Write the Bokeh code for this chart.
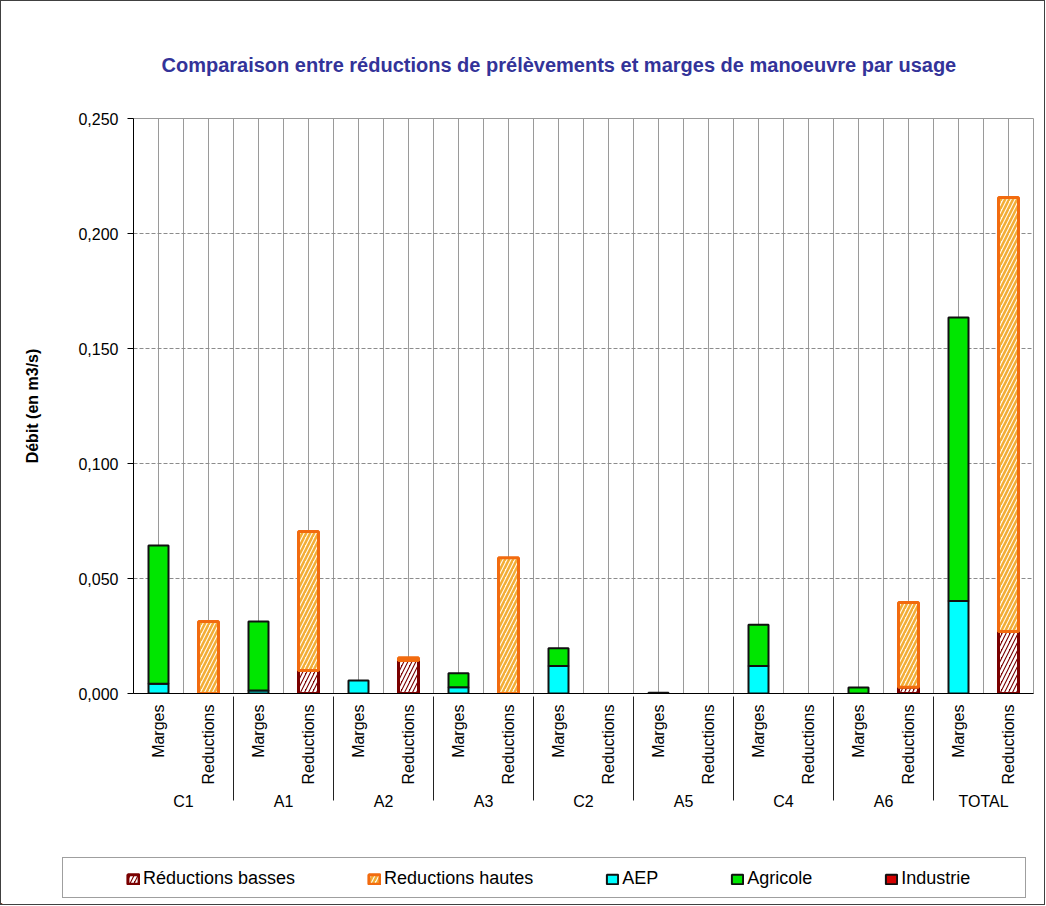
import math
import numpy as np
from bokeh.plotting import figure
from bokeh.layouts import column
from bokeh.models import (ColumnDataSource, FactorRange, Range1d, FixedTicker,
                          CustomJSTickFormatter, Legend, LegendItem)
from bokeh.embed import file_html
from bokeh.resources import INLINE

# ---------------- data ----------------
groups = ["C1", "A1", "A2", "A3", "C2", "A5", "C4", "A6", "TOTAL"]
bar_types = ["Marges", "Reductions"]

# Marges de manoeuvre (stacked: AEP, Agricole, Industrie)
marges_aep = [0.0042, 0.0013, 0.0057, 0.0027, 0.0120, 0.0003, 0.0120, 0.0000, 0.0402]
marges_agricole = [0.0601, 0.0300, 0.0000, 0.0061, 0.0077, 0.0000, 0.0179, 0.0026, 0.1233]
marges_industrie = [0.0, 0.0, 0.0, 0.0, 0.0, 0.0, 0.0, 0.0, 0.0]

# Réductions de prélèvements (stacked: basses, hautes)
reductions_basses = [0.0000, 0.0100, 0.0143, 0.0000, 0.0, 0.0, 0.0, 0.0027, 0.0270]
reductions_hautes = [0.0313, 0.0604, 0.0012, 0.0590, 0.0, 0.0, 0.0, 0.0369, 0.1887]

y_ticks = [0.0, 0.05, 0.10, 0.15, 0.20, 0.25]

series_labels = ["Réductions basses", "Reductions hautes", "AEP", "Agricole", "Industrie"]
title_text = "Comparaison entre réductions de prélèvements et marges de manoeuvre par usage"
y_label = "Débit (en m3/s)"

FONT = "Liberation Sans"
FIG_W = 1043

# ---------------- main figure ----------------
factors = [(g, b) for g in groups for b in bar_types]
n_slots = len(factors)
x_range = FactorRange(*factors, group_padding=0, factor_padding=0, range_padding=0)

p = figure(x_range=x_range, y_range=Range1d(0, 0.25),
           frame_width=900, frame_height=575,
           min_border_left=132, min_border_right=11, min_border_top=117, min_border_bottom=150,
           output_backend="svg", toolbar_location=None,
           background_fill_color="white", border_fill_color="white")
p.frame_align = False

p.title.text = title_text
p.title.align = "left"
p.title.offset = 28
p.title.standoff = 85
p.title.text_font = FONT
p.title.text_font_size = "20px"
p.title.text_font_style = "bold"
p.title.text_color = "#333399"

p.outline_line_color = "#999999"

# grids
p.xgrid.ticker = FixedTicker(ticks=[k * 0.5 for k in range(0, 2 * n_slots + 1)])
p.xgrid.grid_line_color = "#9a9a9a"
p.xgrid.grid_line_width = 1
p.ygrid.ticker = FixedTicker(ticks=y_ticks)
p.ygrid.grid_line_color = "#8c8c8c"
p.ygrid.grid_line_dash = "4 2"

# y axis
p.yaxis.ticker = FixedTicker(ticks=y_ticks)
p.yaxis.formatter = CustomJSTickFormatter(code="return tick.toFixed(3).replace('.', ',');")
p.yaxis.axis_label = y_label
p.yaxis.axis_label_text_font = FONT
p.yaxis.axis_label_text_font_size = "16px"
p.yaxis.axis_label_text_font_style = "bold"
p.yaxis.axis_label_text_color = "black"
p.yaxis.axis_label_standoff = 34
p.yaxis.major_label_text_font = FONT
p.yaxis.major_label_text_font_size = "16px"
p.yaxis.major_label_text_color = "black"
p.yaxis.major_label_standoff = 9
p.yaxis.major_tick_out = 6
p.yaxis.major_tick_in = 0
p.yaxis.minor_tick_line_color = None
p.yaxis.axis_line_color = "black"
p.yaxis.major_tick_line_color = "black"

# x axis (two-level categories)
p.xaxis.major_label_orientation = math.pi / 2
p.xaxis.major_label_text_font = FONT
p.xaxis.major_label_text_font_size = "16px"
p.xaxis.major_label_text_color = "black"
p.xaxis.major_label_standoff = 5
p.xaxis.major_tick_line_color = None
p.xaxis.major_tick_out = 6
p.xaxis.group_text_font = FONT
p.xaxis.group_text_font_size = "16px"
p.xaxis.group_text_font_style = "normal"
p.xaxis.group_text_color = "black"
p.xaxis.separator_line_color = "#222222"
p.xaxis.separator_line_width = 1
p.xaxis.axis_line_color = "black"

# ---------------- bars ----------------
BAR_W = 0.4


def stacked_sources(bar_type, series_list):
    base = np.zeros(len(groups))
    out = []
    for vals in series_list:
        v = np.asarray(vals, dtype=float)
        top = base + v
        mask = v > 0
        out.append(ColumnDataSource(dict(
            x=[(g, bar_type) for g, m in zip(groups, mask) if m],
            bottom=base[mask], top=top[mask])))
        base = top
    return out


src_basses, src_hautes = stacked_sources("Reductions", [reductions_basses, reductions_hautes])
src_aep, src_agri, src_ind = stacked_sources("Marges", [marges_aep, marges_agricole, marges_industrie])

style_basses = dict(fill_color="#7a0000", hatch_pattern="/", hatch_color="white",
                    hatch_scale=8, hatch_weight=2.5, line_color="#7a0000", line_width=3)
style_hautes = dict(fill_color="#fffaf0", hatch_pattern="/", hatch_color="#f2ad35",
                    hatch_scale=8, hatch_weight=2.5, line_color="#f26b0f", line_width=3)
style_aep = dict(fill_color="#00ffff", line_color="#111111", line_width=2)
style_agri = dict(fill_color="#00e600", line_color="#111111", line_width=2)
style_ind = dict(fill_color="#d40000", line_color="#111111", line_width=2)
series_styles = [style_basses, style_hautes, style_aep, style_agri, style_ind]

p.vbar(x="x", bottom="bottom", top="top", width=BAR_W, source=src_basses, **style_basses)
p.vbar(x="x", bottom="bottom", top="top", width=BAR_W, source=src_hautes, **style_hautes)
p.vbar(x="x", bottom="bottom", top="top", width=BAR_W, source=src_aep, **style_aep)
p.vbar(x="x", bottom="bottom", top="top", width=BAR_W, source=src_agri, **style_agri)
p.vbar(x="x", bottom="bottom", top="top", width=BAR_W, source=src_ind, **style_ind)

# ---------------- legend strip (separate figure below the chart) ----------------
lf = figure(width=FIG_W, height=61, x_range=Range1d(0, 1), y_range=Range1d(0, 1),
            x_axis_location=None, y_axis_location=None, min_border=0,
            output_backend="svg", toolbar_location=None,
            background_fill_color="white", border_fill_color="white")
lf.frame_align = False
lf.grid.visible = False
lf.outline_line_color = None

# legend proxies: one hidden point each, outside the strip's visible range
proxy = ColumnDataSource(dict(x=[-5.0], bottom=[-6.0], top=[-5.0]))
legend_renderers = [lf.vbar(x="x", bottom="bottom", top="top", width=0.1, source=proxy, **st)
                    for st in series_styles]
box_renderer = lf.vbar(x="x", bottom="bottom", top="top", width=0.1, source=proxy,
                       fill_alpha=0, line_alpha=0)

box_legend = Legend(items=[LegendItem(label="", renderers=[box_renderer])],
                    orientation="horizontal", location=(61, 6),
                    padding=0, margin=0, glyph_width=14, glyph_height=10,
                    label_width=943, label_height=39, label_standoff=5,
                    border_line_color="#404040", border_line_width=1,
                    background_fill_color="white", background_fill_alpha=1)
lf.add_layout(box_legend)

legend = Legend(items=[LegendItem(label=lab, renderers=[r])
                       for lab, r in zip(series_labels, legend_renderers)],
                orientation="horizontal", location=(116, 6),
                padding=9, margin=0, spacing=72,
                glyph_width=14, glyph_height=12, label_standoff=3,
                label_height=20,
                label_text_font=FONT, label_text_font_size="18px", label_text_color="black",
                border_line_alpha=0, background_fill_alpha=0)
lf.add_layout(legend)

layout = column(p, lf, spacing=0)
layout.styles = {"border": "1px solid #404040"}

open("out.html", "w").write(file_html(layout, INLINE))
